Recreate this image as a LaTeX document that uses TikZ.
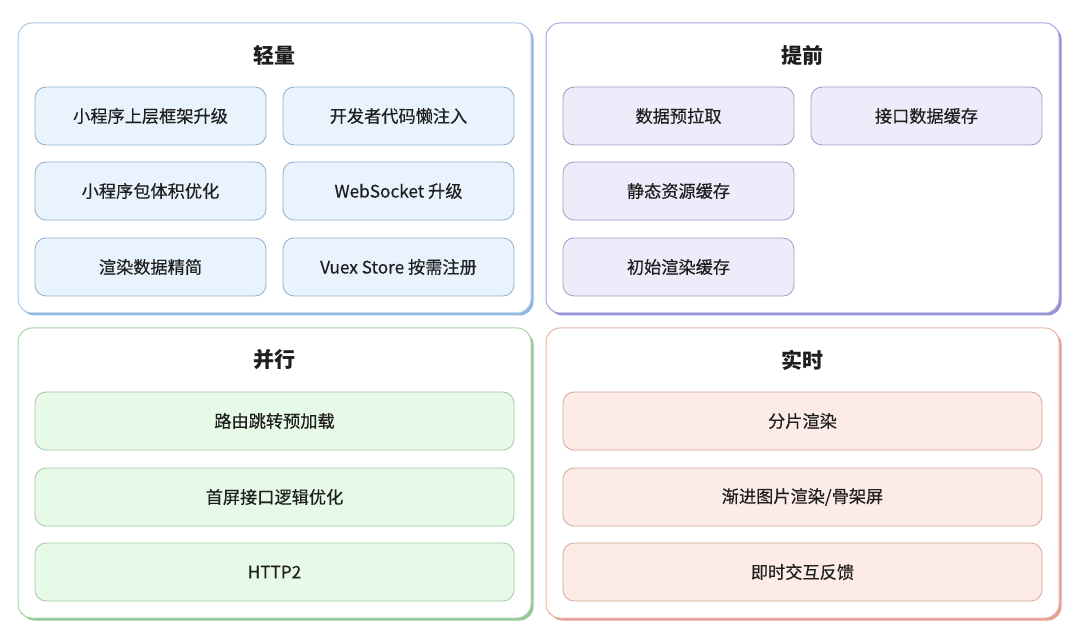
\documentclass[tikz,border=0pt]{standalone}
\usepackage{fontspec}
\setmainfont{Noto Sans CJK SC}
\newfontfamily\itemfont{Noto Sans CJK SC}[FakeBold=0.35]
\usetikzlibrary{shadows}
\definecolor{bPan}{HTML}{A9C9EA}
\definecolor{bSh}{HTML}{8FB6E0}
\definecolor{bFill}{HTML}{E9F3FD}
\definecolor{bLine}{HTML}{8EAFCB}
\definecolor{pPan}{HTML}{ABA8E2}
\definecolor{pSh}{HTML}{9591D8}
\definecolor{pFill}{HTML}{EDECFB}
\definecolor{pLine}{HTML}{A09DC9}
\definecolor{gPan}{HTML}{A9D3A9}
\definecolor{gSh}{HTML}{96C596}
\definecolor{gFill}{HTML}{E7FAE7}
\definecolor{gLine}{HTML}{A3C9A3}
\definecolor{rPan}{HTML}{EDB3A8}
\definecolor{rSh}{HTML}{E59E94}
\definecolor{rFill}{HTML}{FCEBE7}
\definecolor{rLine}{HTML}{D7A89A}
\definecolor{txt}{HTML}{1E1E1E}
\tikzset{
  panel/.style={draw=#1Pan, line width=1pt, fill=white, rounded corners=14pt,
    minimum width=513pt, minimum height=290pt, inner sep=0pt,
    drop shadow={shadow xshift=2.5pt, shadow yshift=-2.5pt, fill=#1Sh, opacity=1}},
  ptitle/.style={font=\fontsize{21}{25}\selectfont\bfseries, text=txt},
  item/.style={draw=#1Line, fill=#1Fill, line width=0.8pt, rounded corners=11pt,
    minimum width=231pt, minimum height=58pt, inner sep=0pt,
    font=\itemfont\fontsize{17.2}{20}\selectfont, text=txt},
  wide/.style={item=#1, minimum width=479pt},
}
\begin{document}
\begin{tikzpicture}[x=1pt,y=1pt]
\useasboundingbox (0,0) rectangle (1080,641);
% panels
\node[panel=b] (p1) at (274.5,473) {};
\node[panel=p] (p2) at (802.5,473) {};
\node[panel=g] (p3) at (274.5,168) {};
\node[panel=r] (p4) at (802.5,168) {};
% titles
\node[ptitle] (t1) at (274.5,586) {轻量};
\node[ptitle] (t2) at (802.5,586) {提前};
\node[ptitle] (t3) at (274.5,281) {并行};
\node[ptitle] (t4) at (802.5,281) {实时};
% panel 1
\node[item=b] (a1) at (150.5,525) {小程序上层框架升级};
\node[item=b] (a2) at (398.5,525) {开发者代码懒注入};
\node[item=b] (a3) at (150.5,450) {小程序包体积优化};
\node[item=b] (a4) at (398.5,450) {WebSocket 升级};
\node[item=b] (a5) at (150.5,374) {渲染数据精简};
\node[item=b] (a6) at (398.5,374) {Vuex Store 按需注册};
% panel 2
\node[item=p] (b1) at (678.5,525) {数据预拉取};
\node[item=p] (b2) at (926.5,525) {接口数据缓存};
\node[item=p] (b3) at (678.5,450) {静态资源缓存};
\node[item=p] (b4) at (678.5,374) {初始渲染缓存};
% panel 3
\node[wide=g] (c1) at (274.5,220) {路由跳转预加载};
\node[wide=g] (c2) at (274.5,144) {首屏接口逻辑优化};
\node[wide=g] (c3) at (274.5,69) {HTTP2};
% panel 4
\node[wide=r] (d1) at (802.5,220) {分片渲染};
\node[wide=r] (d2) at (802.5,144) {渐进图片渲染/骨架屏};
\node[wide=r] (d3) at (802.5,69) {即时交互反馈};
\end{tikzpicture}
\end{document}
